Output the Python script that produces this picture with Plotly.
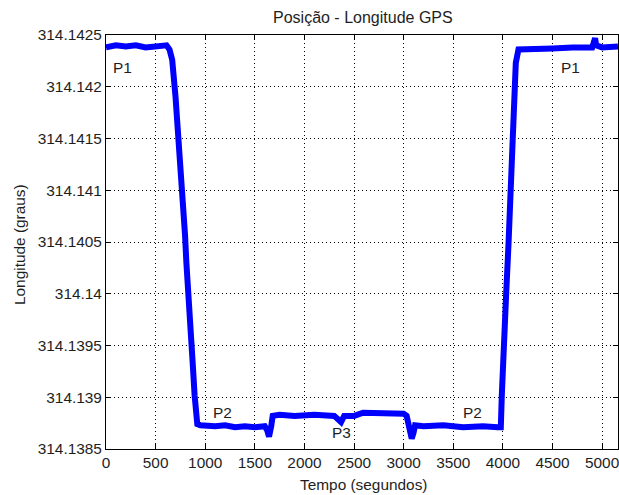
import plotly.graph_objects as go

# ---- data ----
tempo = [0, 100, 200, 300, 400, 500, 560, 610, 640, 660,
         667, 700, 733, 757, 783, 797, 810, 833, 850, 873, 893, 907, 920,
         950, 1100, 1200, 1300, 1400, 1500, 1600, 1625, 1643, 1655, 1665,
         1680, 1750, 1900, 2100, 2300, 2369, 2400, 2500, 2591, 2700, 2850,
         3000, 3030, 3060, 3081, 3100, 3115, 3200, 3400, 3600, 3800, 3950,
         3979, 3989, 4005, 4032, 4056, 4080, 4100, 4116, 4130, 4157, 4300,
         4500, 4700, 4900, 4920, 4929, 4940, 5000, 5160]
longitude = [314.14238, 314.14240, 314.14239, 314.14240, 314.14238, 314.14239,
             314.14240, 314.14240, 314.14236, 314.14228,
             314.14226, 314.14191, 314.14149, 314.14120, 314.14088, 314.14056,
             314.14030, 314.14001, 314.13966, 314.13934, 314.13902, 314.13881,
             314.13874,
             314.13873, 314.13872, 314.13873, 314.13871, 314.13872, 314.13871,
             314.13872, 314.13868, 314.13862, 314.13866, 314.13872,
             314.13882, 314.13883, 314.13882, 314.13883, 314.13882, 314.13876,
             314.13882, 314.13882, 314.13885, 314.13885, 314.13884,
             314.13884, 314.13882, 314.13868, 314.13860, 314.13866, 314.13873,
             314.13872, 314.13873, 314.13871, 314.13872, 314.13871,
             314.13871, 314.13902, 314.13950, 314.13998, 314.14047, 314.14100,
             314.14149, 314.14191, 314.14223, 314.14236, 314.14237,
             314.14237, 314.14238, 314.14238, 314.14244, 314.14247, 314.14240,
             314.14238, 314.14239]

x_ticks = [0, 500, 1000, 1500, 2000, 2500, 3000, 3500, 4000, 4500, 5000]
y_ticks = [314.1385, 314.139, 314.1395, 314.14, 314.1405, 314.141,
           314.1415, 314.142, 314.1425]
y_tick_labels = ["314.1385", "314.139", "314.1395", "314.14", "314.1405",
                 "314.141", "314.1415", "314.142", "314.1425"]

labels = ["P1", "P1", "P2", "P2", "P3"]
label_t = [171, 4677, 1174, 3690, 2369]
label_v = [314.14219, 314.14219, 314.13885, 314.13885, 314.13866]

FONT = "Liberation Sans, Arial, sans-serif"
FS = 15.4
TXT = "#1e1e1e"

fig = go.Figure()
fig.add_trace(go.Scatter(x=tempo, y=longitude, mode="lines",
                         line=dict(color="#0000FF", width=6),
                         showlegend=False, hoverinfo="skip"))

for s, t, v in zip(labels, label_t, label_v):
    fig.add_annotation(x=t, y=v, text=s, showarrow=False,
                       font=dict(family=FONT, size=FS, color=TXT))

axis_common = dict(showline=True, linecolor="#000000", linewidth=1,
                   mirror="ticks", ticks="inside", ticklen=5,
                   tickcolor="#000000", showgrid=True, gridcolor="#000000",
                   gridwidth=1, griddash="1px,3px", zeroline=False,
                   ticklabeloverflow="allow",
                   tickfont=dict(family=FONT, size=FS, color=TXT))

fig.update_xaxes(range=[0, 5160], tickvals=x_ticks,
                 ticktext=[str(v) for v in x_ticks], **axis_common)
fig.update_yaxes(range=[314.1385, 314.1425], tickvals=y_ticks,
                 ticktext=y_tick_labels, **axis_common)

W, H = 619, 495
L, R, T, B = 106, 1, 35, 46
fig.update_layout(width=W, height=H,
                  margin=dict(l=L, r=R, t=T, b=B, pad=0),
                  paper_bgcolor="white", plot_bgcolor="white",
                  font=dict(family=FONT, size=FS, color=TXT))

pw, ph = W - L - R, H - T - B
fig.add_annotation(text="Posição - Longitude GPS", xref="paper", yref="paper",
                   x=(363 - L) / pw, y=(H - B - 17.5) / ph,
                   showarrow=False, xanchor="center", yanchor="middle",
                   font=dict(family=FONT, size=16, color=TXT))
fig.add_annotation(text="Tempo (segundos)", xref="paper", yref="paper",
                   x=(363 - L) / pw, y=(H - B - 484) / ph,
                   showarrow=False, xanchor="center", yanchor="middle",
                   font=dict(family=FONT, size=FS, color=TXT))
fig.add_annotation(text="Longitude (graus)", xref="paper", yref="paper",
                   x=(19 - L) / pw, y=(H - B - 245) / ph, textangle=-90,
                   showarrow=False, xanchor="center", yanchor="middle",
                   font=dict(family=FONT, size=FS, color=TXT))

fig.write_html("out.html")
